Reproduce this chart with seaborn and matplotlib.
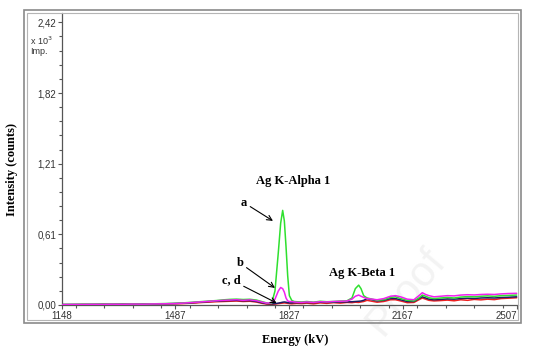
import numpy as np
import pandas as pd
import matplotlib
matplotlib.use('Agg')
import matplotlib.pyplot as plt
from matplotlib.patches import Rectangle
from matplotlib.ticker import FixedLocator, MultipleLocator
import seaborn as sns

# --- data (intensity in x10^3 counts) ---
energy = [1148, 1180, 1210, 1240, 1270, 1300, 1330, 1360, 1390, 1420, 1450, 1480, 1510,
          1530, 1550, 1570, 1590, 1610, 1630, 1650, 1670, 1690, 1710, 1730,
          1745, 1760, 1775, 1785, 1795, 1802, 1808, 1813, 1818, 1823, 1828, 1835, 1842, 1850,
          1865, 1880, 1900, 1920, 1940, 1960, 1980, 2000,
          2015, 2025, 2035, 2042, 2050, 2060, 2075, 2090,
          2110, 2130, 2145, 2160, 2180, 2200,
          2215, 2225, 2235, 2245, 2260,
          2280, 2300, 2320, 2340, 2360, 2380, 2400, 2420, 2440, 2460, 2480, 2507]

sample_a = [0.004, 0.006, 0.005, 0.007, 0.006, 0.008, 0.007, 0.009, 0.008, 0.010, 0.012, 0.014, 0.018,
            0.022, 0.026, 0.030, 0.034, 0.038, 0.044, 0.048, 0.050, 0.047, 0.049, 0.042,
            0.030, 0.018, 0.014, 0.120, 0.450, 0.700, 0.810, 0.720, 0.500, 0.250, 0.080, 0.040, 0.030, 0.028,
            0.026, 0.030, 0.024, 0.032, 0.028, 0.030, 0.034, 0.036,
            0.060, 0.140, 0.170, 0.140, 0.080, 0.060, 0.050, 0.040,
            0.045, 0.065, 0.070, 0.055, 0.040, 0.035,
            0.060, 0.085, 0.075, 0.062, 0.055,
            0.060, 0.065, 0.060, 0.068, 0.072, 0.070, 0.075, 0.078, 0.074, 0.080, 0.082, 0.085]

sample_b = [0.003, 0.005, 0.004, 0.006, 0.005, 0.007, 0.006, 0.008, 0.007, 0.009, 0.010, 0.012, 0.016,
            0.020, 0.024, 0.028, 0.032, 0.036, 0.040, 0.042, 0.045, 0.040, 0.044, 0.036,
            0.026, 0.016, 0.020, 0.050, 0.120, 0.150, 0.140, 0.110, 0.060, 0.035, 0.030, 0.030, 0.026, 0.024,
            0.022, 0.026, 0.022, 0.028, 0.026, 0.030, 0.032, 0.034,
            0.050, 0.075, 0.085, 0.075, 0.065, 0.055, 0.050, 0.045,
            0.055, 0.075, 0.080, 0.070, 0.050, 0.045,
            0.080, 0.105, 0.090, 0.080, 0.070,
            0.075, 0.080, 0.078, 0.085, 0.088, 0.086, 0.090, 0.092, 0.090, 0.095, 0.098, 0.100]

sample_c = [0.003, 0.002, 0.004, 0.003, 0.005, 0.004, 0.006, 0.005, 0.007, 0.006, 0.008, 0.010, 0.012,
            0.015, 0.018, 0.022, 0.025, 0.028, 0.030, 0.032, 0.034, 0.030, 0.032, 0.025,
            0.015, 0.008, 0.006, 0.008, 0.012, 0.014, 0.016, 0.018, 0.016, 0.014, 0.012, 0.010, 0.012, 0.014,
            0.012, 0.016, 0.010, 0.018, 0.014, 0.020, 0.016, 0.022,
            0.020, 0.024, 0.022, 0.026, 0.030, 0.040, 0.032, 0.024,
            0.030, 0.045, 0.045, 0.035, 0.020, 0.022,
            0.045, 0.060, 0.050, 0.040, 0.035,
            0.038, 0.042, 0.036, 0.045, 0.040, 0.048, 0.044, 0.050, 0.046, 0.055, 0.058, 0.062]

sample_d = [0.004, 0.004, 0.005, 0.005, 0.006, 0.006, 0.007, 0.007, 0.008, 0.008, 0.010, 0.012, 0.015,
            0.018, 0.022, 0.026, 0.030, 0.033, 0.036, 0.038, 0.040, 0.036, 0.038, 0.030,
            0.020, 0.012, 0.010, 0.012, 0.016, 0.020, 0.024, 0.026, 0.024, 0.020, 0.018, 0.018, 0.020, 0.020,
            0.020, 0.022, 0.020, 0.024, 0.022, 0.024, 0.026, 0.026,
            0.028, 0.030, 0.032, 0.034, 0.040, 0.055, 0.045, 0.035,
            0.040, 0.055, 0.055, 0.045, 0.030, 0.030,
            0.055, 0.070, 0.060, 0.050, 0.045,
            0.048, 0.052, 0.050, 0.055, 0.058, 0.056, 0.060, 0.062, 0.060, 0.064, 0.066, 0.070]

samples = ['c', 'd', 'a', 'b']
colors = {'a': '#2fe02f', 'b': '#f020f0', 'c': '#ee2020', 'd': '#1c1c66'}

x_ticks = [1148, 1487, 1827, 2167, 2507]
y_ticks = [0.0, 0.605, 1.21, 1.815, 2.42]
y_labels = ['0,00', '0,61', '1,21', '1,82', '2,42']

df = pd.DataFrame({
    'energy': energy * 4,
    'intensity': sample_c + sample_d + sample_a + sample_b,
    'sample': ['c'] * len(energy) + ['d'] * len(energy) + ['a'] * len(energy) + ['b'] * len(energy),
})

# --- plot ---
sns.set_style('white')
plt.rcParams['font.family'] = ['Liberation Sans', 'DejaVu Sans']

fig = plt.figure(figsize=(5.34, 3.52), dpi=100)
ax = fig.add_axes([61.7 / 534, 1 - 305 / 352, 456 / 534, 292 / 352])
ax.set_facecolor('none')

# outer software-window frame
fig.patches.append(Rectangle((24 / 534, 1 - 323 / 352), 497 / 534, 313 / 352,
                             transform=fig.transFigure, fill=False, ec='#8a8a8a', lw=1.2))
fig.patches.append(Rectangle((27 / 534, 1 - 320 / 352), 491 / 534, 307 / 352,
                             transform=fig.transFigure, fill=False, ec='#b5b5b5', lw=0.8))

# faint watermark
fig.text(0.76, 0.17, 'Proof', rotation=50, fontsize=30, color='#f3f3f3',
         ha='center', va='center', zorder=-5, family='Liberation Sans')

sns.lineplot(data=df, x='energy', y='intensity', hue='sample', hue_order=samples,
             palette=colors, lw=1.1, legend=False, ax=ax, zorder=3)

ax.set_xlim(1148, 2510)
ax.set_ylim(0, 2.50)
ax.xaxis.set_major_locator(FixedLocator(x_ticks))
ax.xaxis.set_minor_locator(MultipleLocator(85))
ax.yaxis.set_major_locator(FixedLocator(y_ticks))
ax.yaxis.set_minor_locator(MultipleLocator(0.121))
ax.set_yticklabels(y_labels)
ax.set_xticklabels([str(t) for t in x_ticks])
ax.get_xticklabels()[-1].set_horizontalalignment('right')
ax.tick_params(which='both', direction='out', color='#555555', labelsize=7,
               labelcolor='#333333', pad=1)
ax.tick_params(which='major', length=3, width=0.8)
ax.tick_params(which='minor', length=2.5, width=0.8)
ax.tick_params(axis='x', which='both', bottom=True)
ax.tick_params(axis='y', which='both', left=True)
for s in ['top', 'right']:
    ax.spines[s].set_visible(False)
for s in ['left', 'bottom']:
    ax.spines[s].set_color('#555555')
    ax.spines[s].set_linewidth(0.9)
ax.set_xlabel('')
ax.set_ylabel('')

fig.text(30 / 534, 1 - 41 / 352, r'x 10$^3$', fontsize=6.5, color='#333333', va='center')
fig.text(30 / 534, 1 - 52 / 352, 'Imp.', fontsize=6.5, color='#333333', va='center')

serif = dict(family='Liberation Serif', fontweight='bold', color='black')
fig.text(295 / 534, 1 - 340 / 352, 'Energy (kV)', ha='center', va='center', fontsize=9, **serif)
fig.text(12 / 534, 1 - 170 / 352, 'Intensity (counts)', ha='center', va='center',
         rotation=90, fontsize=9, **serif)

# peak annotations
ax.text(1839, 1.06, 'Ag K-Alpha 1', ha='center', va='center', fontsize=9, **serif)
ax.text(2045, 0.275, 'Ag K-Beta 1', ha='center', va='center', fontsize=9, **serif)
arrow = dict(arrowstyle='->', lw=0.8, color='black', shrinkA=0, shrinkB=0)
ax.annotate('a', xy=(1779, 0.72), xytext=(1692, 0.877), ha='center', va='center',
            fontsize=9, arrowprops=arrow, **serif)
ax.annotate('b', xy=(1785, 0.146), xytext=(1680, 0.361), ha='center', va='center',
            fontsize=9, arrowprops=arrow, **serif)
ax.annotate('c, d', xy=(1790, 0.017), xytext=(1654, 0.215), ha='center', va='center',
            fontsize=9, arrowprops=arrow, **serif)

fig.savefig('out.png', dpi=100)
